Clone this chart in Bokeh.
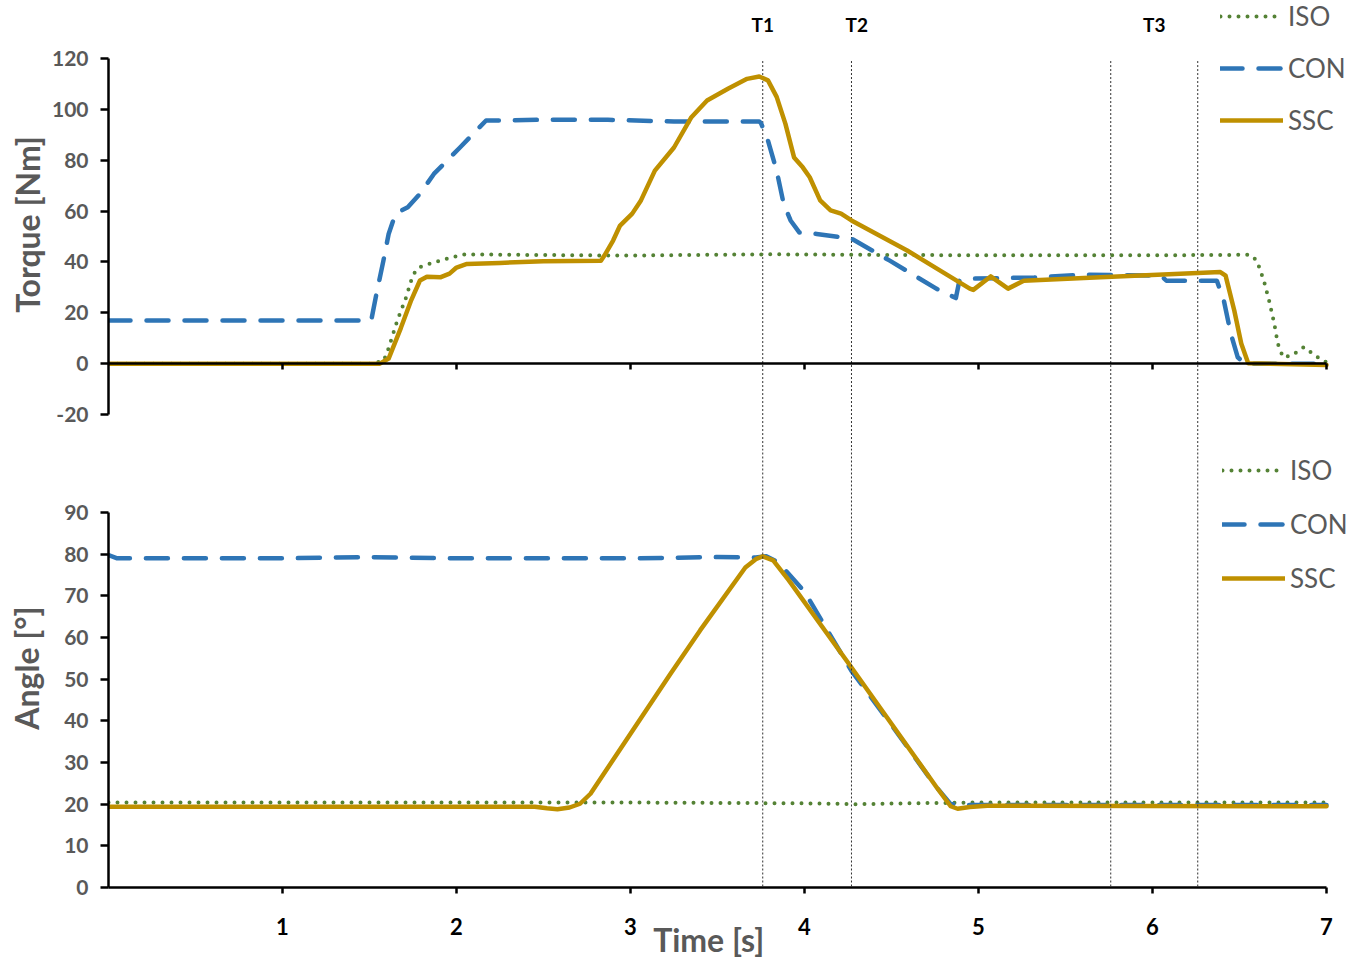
from bokeh.plotting import figure
from bokeh.layouts import column
from bokeh.models import Range1d, FixedTicker, LinearAxis, Legend, LegendItem, Span
from bokeh.embed import file_html
from bokeh.resources import INLINE
from bokeh.core.properties import value

# ---------------- data ----------------
series_names = ["ISO", "CON", "SSC"]

# Torque [Nm] vs time [s]
iso_torque_t = [0, 1.50, 1.58, 1.60, 1.66, 1.71, 1.75, 1.79, 1.87, 1.97, 2.05, 2.30, 3.00, 3.80,
                4.30, 5.00, 6.00, 6.56, 6.60, 6.64, 6.67, 6.70, 6.72, 6.75, 6.80, 6.87, 6.95, 7.00]
iso_torque = [0, 0, 1, 4, 17, 26, 35, 38, 39.8, 41.8, 43, 42.8, 42.5, 43,
              42.8, 42.6, 42.6, 42.8, 40.5, 32.6, 24.8, 15.7, 7.9, 2.5, 3.2, 6.5, 2.5, 0.5]

con_torque_t = [0, 1.51, 1.54, 1.58, 1.61, 1.65, 1.72, 1.79, 1.87, 2.02, 2.17, 2.50, 2.87, 3.25,
                3.74, 3.75, 3.79, 3.84, 3.88, 3.92, 3.97, 4.00, 4.07, 4.27, 4.49, 4.76, 4.87, 4.89,
                4.95, 5.32, 5.62, 6.05, 6.08, 6.31, 6.37, 6.41, 6.45, 6.49, 6.53, 7.00]
con_torque = [17, 17, 27.5, 40.5, 51, 59, 61.5, 66.8, 74.6, 85, 95.6, 95.9, 95.9, 95.2,
              95.2, 94.6, 87.7, 75.9, 62.9, 56.3, 51.6, 51.6, 51, 49.2, 40.5, 29.4, 25.8, 32.6,
              33.4, 33.9, 35, 34.6, 32.6, 32.6, 32.6, 24.8, 11.8, 2.5, 0, 0]

ssc_torque_t = [0, 1.56, 1.61, 1.68, 1.74, 1.79, 1.83, 1.91, 1.96, 2.00, 2.06, 2.25, 2.50, 2.83,
                2.85, 2.90, 2.94, 3.01, 3.06, 3.14, 3.25, 3.35, 3.44, 3.56, 3.67, 3.74, 3.79,
                3.84, 3.89, 3.94, 3.99, 4.03, 4.09, 4.15, 4.21, 4.27, 4.59, 4.78, 4.95, 4.97,
                5.07, 5.17, 5.26, 5.70, 6.39, 6.42, 6.47, 6.51, 6.55, 7.00]
ssc_torque = [0, 0, 2, 14, 25, 32.7, 34.2, 34, 35.4, 37.8, 39.2, 39.6, 40.3, 40.5,
              42.5, 48.4, 54.3, 59, 64.2, 75.9, 85, 96.9, 103.5, 108.1, 112, 112.9, 111.4,
              104.9, 94.4, 81.1, 77.2, 73.3, 64.2, 60.3, 59, 56.3, 44.5, 36.6, 29.5, 29,
              34.3, 29.5, 32.6, 34, 36, 34.6, 20.9, 7.9, 0.2, -0.5]

# Angle [deg] vs time [s]
iso_angle_t = [0, 1.0, 2.0, 3.0, 3.5, 4.0, 4.3, 4.6, 5.0, 6.0, 7.0]
iso_angle = [20.4, 20.4, 20.4, 20.4, 20.3, 20.2, 20.0, 20.2, 20.4, 20.4, 20.4]

con_angle_t = [0, 0.05, 1.0, 1.5, 2.0, 3.0, 3.5, 3.72, 3.78, 3.85, 4.00, 4.27, 4.50, 4.75,
               4.84, 4.90, 5.00, 7.00]
con_angle = [79.8, 79.0, 79.0, 79.3, 79.0, 79.0, 79.3, 79.2, 79.5, 78.0, 71.0, 52.0, 39.0, 24.5,
             20.0, 19.8, 19.8, 19.8]

ssc_angle_t = [0, 2.45, 2.52, 2.58, 2.65, 2.71, 2.77, 3.00, 3.23, 3.40, 3.66, 3.72, 3.76, 3.82,
               3.91, 4.27, 4.76, 4.84, 4.88, 4.95, 5.05, 7.00]
ssc_angle = [19.4, 19.4, 19.0, 18.8, 19.2, 20.1, 22.5, 36.9, 51.3, 61.7, 76.8, 78.8, 79.5, 78.5,
             73.7, 52.8, 24.0, 19.5, 18.9, 19.3, 19.6, 19.5]

time_ticks = [1, 2, 3, 4, 5, 6, 7]
time_tick_labels = ["1", "2", "3", "4", "5", "6", "7"]
torque_ticks = [-20, 0, 20, 40, 60, 80, 100, 120]
torque_tick_labels = ["-20", "0", "20", "40", "60", "80", "100", "120"]
angle_ticks = [0, 10, 20, 30, 40, 50, 60, 70, 80, 90]
angle_tick_labels = ["0", "10", "20", "30", "40", "50", "60", "70", "80", "90"]

phase_lines_t = [3.76, 4.27, 5.76, 6.26]
phase_labels = ["T1", "T2", "T3"]
phase_label_t = [3.76, 4.30, 6.01]

# ---------------- styling / layout ----------------
FONT = "Lato"
GRAY = "#595959"
COLORS = {"ISO": "#548235", "CON": "#2E75B6", "SSC": "#BF9000"}
DASHES = {"ISO": "0 9", "CON": "22 16", "SSC": "solid"}
WIDTHS = {"ISO": 4, "CON": 4.5, "SSC": 4.5}

W = 1355
TOP_H = 448
BOT_H = 514
LEFT = 108
PX_PER_S = 174.0
X_START = 0
X_END = (W - LEFT) / PX_PER_S      # frame runs to the right page edge (room for legends)

# top panel: -20..120 mapped to page px 414..58, frame page 0..448
t_ppu = (414 - 58) / 140.0
t_zero = 414 - 20 * t_ppu
top_y_end = t_zero / t_ppu
top_y_start = (t_zero - TOP_H) / t_ppu

# bottom panel: 0..90 mapped to page px 887..512, frame page 448..887
BOT_FRAME_BOTTOM = 887
b_ppu = (887 - 512) / 90.0
bot_y_end = (BOT_FRAME_BOTTOM - TOP_H) / b_ppu
BOT_BORDER = BOT_H - (BOT_FRAME_BOTTOM - TOP_H)


def style_y_axis(ax, ticks, labels, bounds, title, title_standoff):
    ax.ticker = FixedTicker(ticks=ticks)
    ax.major_label_overrides = {t: l for t, l in zip(ticks, labels)}
    ax.bounds = bounds
    ax.axis_line_width = 2.5
    ax.axis_line_color = "black"
    ax.major_tick_line_width = 2.5
    ax.major_tick_line_color = "black"
    ax.major_tick_out = 8
    ax.major_tick_in = 0
    ax.minor_tick_line_color = None
    ax.major_label_standoff = 12
    ax.major_label_text_font = FONT
    ax.major_label_text_font_style = "bold"
    ax.major_label_text_font_size = "21px"
    ax.major_label_text_color = GRAY
    ax.axis_label = title
    ax.axis_label_text_font = FONT
    ax.axis_label_text_font_style = "bold"
    ax.axis_label_text_font_size = "32px"
    ax.axis_label_text_color = GRAY
    ax.axis_label_standoff = title_standoff


def make_fig(height, y_start, y_end, min_bottom):
    p = figure(width=W, height=height, x_range=Range1d(X_START, X_END),
               y_range=Range1d(y_start, y_end),
               output_backend="svg", toolbar_location=None, x_axis_location=None,
               min_border_left=LEFT, min_border_right=0, min_border_top=0,
               min_border_bottom=min_bottom)
    p.outline_line_color = None
    p.xgrid.visible = False
    p.ygrid.visible = False
    p.background_fill_color = "white"
    return p


def add_series(p, data):
    rs = {}
    for name in series_names:
        xs, ys = data[name]
        rs[name] = p.line(xs, ys, line_color=COLORS[name], line_width=WIDTHS[name],
                          line_dash=DASHES[name], line_cap="round", line_join="round")
    return rs


def add_legend(p, rs, vx, vy, spacing):
    leg = Legend(items=[LegendItem(label=n, renderers=[rs[n]]) for n in series_names],
                 location=(vx, vy), orientation="vertical", glyph_width=63, glyph_height=32,
                 label_height=32, label_standoff=5, spacing=spacing, padding=0, margin=0,
                 border_line_color=None, background_fill_alpha=0,
                 label_text_font=FONT, label_text_font_size="26px", label_text_color=GRAY)
    p.add_layout(leg)


# ---------------- top panel: torque ----------------
top = make_fig(TOP_H, top_y_start, top_y_end, 0)
style_y_axis(top.yaxis[0], torque_ticks, torque_tick_labels, (-20, 120), "Torque [Nm]", 2)

xa_top = LinearAxis(fixed_location=0, ticker=FixedTicker(ticks=time_ticks), bounds=(0, 7),
                    axis_line_width=2.5, axis_line_color="black",
                    major_tick_line_width=2.5, major_tick_line_color="black",
                    major_tick_out=0, major_tick_in=-6, minor_tick_line_color=None,
                    major_label_overrides={t: "" for t in time_ticks},
                    major_label_text_font_size="0px", major_label_standoff=0)
top.add_layout(xa_top, "below")

top.segment(x0=phase_lines_t, x1=phase_lines_t, y0=[119] * len(phase_lines_t),
            y1=[top_y_start - 5] * len(phase_lines_t), line_color="#303030", line_width=1,
            line_dash="2 2")
top.text(x=phase_label_t, y=[133.4] * len(phase_label_t), text=phase_labels,
         text_font=value(FONT), text_font_style="bold", text_font_size="19px",
         text_align="center", text_baseline="middle", text_color="black")

top_rs = add_series(top, {"ISO": (iso_torque_t, iso_torque), "CON": (con_torque_t, con_torque),
                          "SSC": (ssc_torque_t, ssc_torque)})
add_legend(top, top_rs, 1220 - LEFT, TOP_H - 136, 20)

# ---------------- bottom panel: angle ----------------
bot = make_fig(BOT_H, 0, bot_y_end, BOT_BORDER)
style_y_axis(bot.yaxis[0], angle_ticks, angle_tick_labels, (0, 90), "Angle [°]", 15)

# trailing no-break spaces shift the centred title left, over the 0..7 s span
xa_bot = LinearAxis(ticker=FixedTicker(ticks=time_ticks), bounds=(0, 7),
                    axis_line_width=2.5, axis_line_color="black",
                    major_tick_line_width=2.5, major_tick_line_color="black",
                    major_tick_out=6, major_tick_in=0, minor_tick_line_color=None,
                    major_label_overrides={t: l for t, l in zip(time_ticks, time_tick_labels)},
                    major_label_standoff=24, major_label_text_font=FONT,
                    major_label_text_font_style="bold", major_label_text_font_size="22px",
                    major_label_text_color="black",
                    axis_label="Time [s]" + "\u00a0" * 6, axis_label_standoff=-18,
                    axis_label_text_font=FONT,
                    axis_label_text_font_style="bold", axis_label_text_font_size="32px",
                    axis_label_text_color=GRAY)
bot.add_layout(xa_bot, "below")

for xv in phase_lines_t:
    bot.add_layout(Span(location=xv, dimension="height", line_color="#303030", line_width=1,
                        line_dash="2 2"))

bot_rs = add_series(bot, {"ISO": (iso_angle_t, iso_angle), "CON": (con_angle_t, con_angle),
                          "SSC": (ssc_angle_t, ssc_angle)})
add_legend(bot, bot_rs, 1222 - LEFT, BOT_FRAME_BOTTOM - 594, 22)

layout = column(top, bot, spacing=0)
open("out.html", "w").write(file_html(layout, INLINE))
